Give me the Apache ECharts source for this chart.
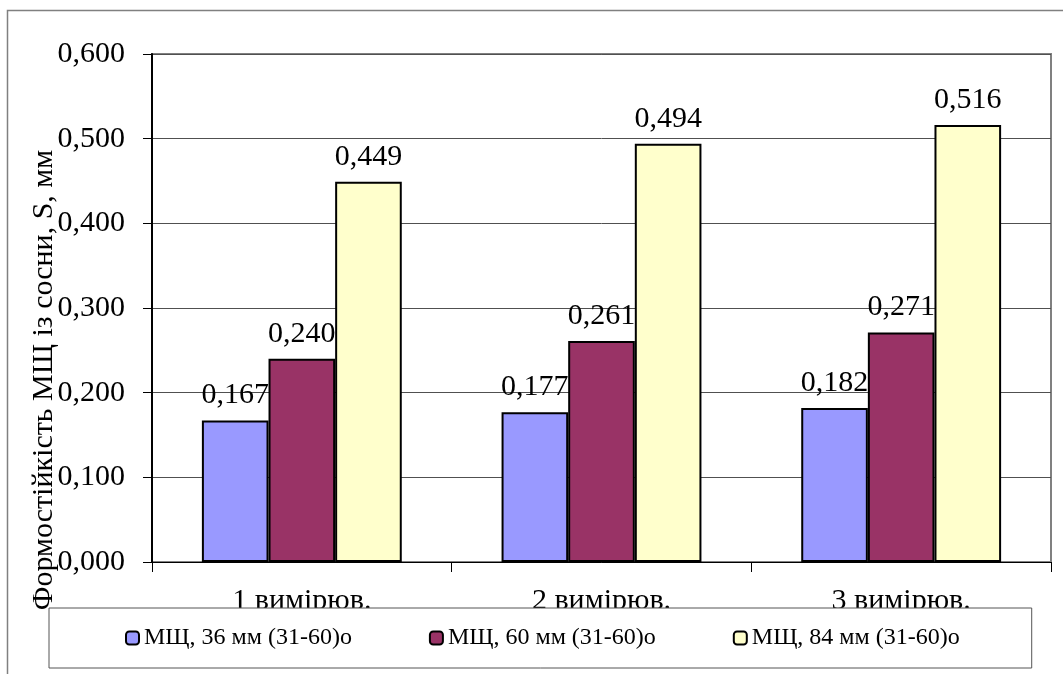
<!DOCTYPE html>
<html>
<head>
<meta charset="utf-8">
<title>Формостійкість МЩ із сосни</title>
<script src="https://cdn.jsdelivr.net/npm/echarts@6/dist/echarts.min.js"></script>
<style>
  html, body { margin: 0; padding: 0; background: #fff; }
  #chart { width: 1063px; height: 674px; }
</style>
</head>
<body>
<div id="chart"></div>
<script>
// Measurement rounds shown on the category axis
const categories = ['1 вимірюв.', '2 вимірюв.', '3 вимірюв.'];

// Series names (legend entries)
const seriesNames = ['МЩ, 36 мм (31-60)о', 'МЩ, 60 мм (31-60)о', 'МЩ, 84 мм (31-60)о'];

// Shape stability S, mm, per measurement round
const values36 = [0.167, 0.177, 0.182];
const values60 = [0.240, 0.261, 0.271];
const values84 = [0.449, 0.494, 0.516];

const seriesValues = [values36, values60, values84];
const seriesColors = ['#9999FF', '#993366', '#FFFFCC'];

const yTitle = 'Формостійкість МЩ із сосни, S, мм';
const serif = '"Liberation Serif", "Times New Roman", serif';

const fmt = v => Number(v).toFixed(3).replace('.', ',');

const chart = echarts.init(document.getElementById('chart'), null, { renderer: 'canvas' });

const series = seriesValues.map((vals, i) => ({
  name: seriesNames[i],
  type: 'bar',
  data: vals,
  z: 2 + i,
  barGap: '0%',
  barCategoryGap: '33.3%',
  itemStyle: { color: seriesColors[i], borderColor: '#000', borderWidth: 2 },
  label: {
    show: true,
    position: 'top',
    distance: 10,
    formatter: p => fmt(p.value),
    color: '#000',
    fontFamily: serif,
    fontSize: 30
  }
}));

chart.setOption({
  animation: false,
  backgroundColor: '#fff',
  grid: {
    left: 152, right: 12, top: 54, bottom: 112,
    show: true, borderColor: '#808080', borderWidth: 2
  },
  xAxis: {
    type: 'category',
    data: categories,
    axisLine: { lineStyle: { color: '#000', width: 1 } },
    axisTick: { show: true, length: 10, lineStyle: { color: '#000' } },
    axisLabel: { margin: 24, color: '#000', fontFamily: serif, fontSize: 30 }
  },
  yAxis: {
    type: 'value',
    min: 0, max: 0.6, interval: 0.1,
    axisLine: { show: true, lineStyle: { color: '#000', width: 2 } },
    axisTick: { show: true, length: 9, lineStyle: { color: '#000' } },
    axisLabel: { margin: 27, color: '#000', fontFamily: serif, fontSize: 30, formatter: v => fmt(v) },
    splitLine: { show: true, lineStyle: { color: '#505050', width: 1 } }
  },
  legend: {
    data: seriesNames,
    orient: 'horizontal',
    left: 49, top: 608,
    padding: [18, 72, 18, 76],
    itemGap: 77,
    itemWidth: 13, itemHeight: 13,
    backgroundColor: '#fff',
    borderColor: '#555', borderWidth: 1,
    textStyle: { color: '#000', fontFamily: serif, fontSize: 24 }
  },
  graphic: [
    {
      type: 'rect',
      z: -10,
      shape: { x: 7.5, y: 10.5, width: 1100, height: 700 },
      style: { fill: 'none', stroke: '#808080', lineWidth: 1.5 }
    },
    {
      type: 'text',
      z: 100,
      x: 44, y: 380,
      rotation: Math.PI / 2,
      style: {
        text: yTitle,
        fill: '#000',
        font: '30px ' + serif,
        align: 'center',
        verticalAlign: 'middle'
      }
    }
  ],
  series: series
});
</script>
</body>
</html>
